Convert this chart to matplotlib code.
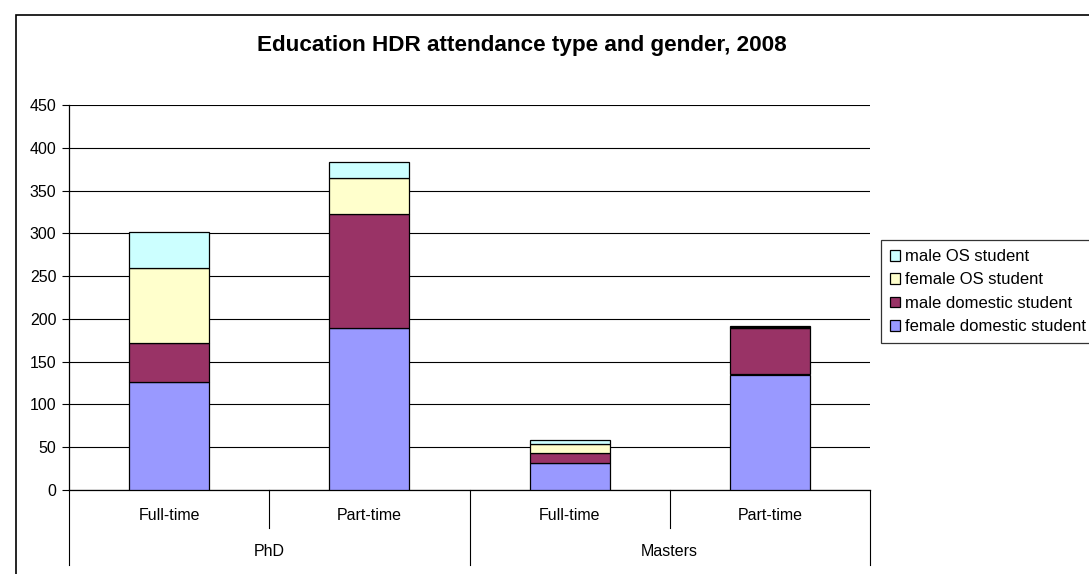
import matplotlib
matplotlib.use("Agg")
import matplotlib.pyplot as plt
from matplotlib.patches import Rectangle
from matplotlib.lines import Line2D
import numpy as np

plt.rcParams['font.family'] = ['Liberation Sans', 'DejaVu Sans']

title = "Education HDR attendance type and gender, 2008"
subcats = ["Full-time", "Part-time", "Full-time", "Part-time"]
groups = ["PhD", "Masters"]
series_names = ["female domestic student", "male domestic student", "female OS student", "male OS student"]
female_domestic = [126, 189, 31, 135]
male_domestic = [46, 134, 12, 54]
female_os = [88, 42, 11, 2]
male_os = [41, 18, 4, 1]
yticks = [0, 50, 100, 150, 200, 250, 300, 350, 400, 450]
colors = ["#9999FF", "#993366", "#FFFFCC", "#CCFFFF"]

W, H = 1089, 574
fig = plt.figure(figsize=(W / 100, H / 100), dpi=100)

# outer chart border
fig.patches.append(Rectangle((16 / W, -0.5), 2.0, 1.5 - 15 / H, transform=fig.transFigure,
                             fill=False, edgecolor="black", linewidth=1.2))

ax_l, ax_r, ax_t, ax_b = 69, 870, 105, 490
ax = fig.add_axes([ax_l / W, 1 - ax_b / H, (ax_r - ax_l) / W, (ax_b - ax_t) / H])

x = np.arange(len(subcats))
data = [female_domestic, male_domestic, female_os, male_os]
bottom = np.zeros(len(subcats))
handles = []
for vals, name, c in zip(data, series_names, colors):
    b = ax.bar(x, vals, 0.4, bottom=bottom, color=c, edgecolor="black", linewidth=0.9,
               label=name, zorder=3)
    handles.append(b)
    bottom += np.array(vals)

ax.set_xlim(-0.5, 3.5)
ax.set_ylim(0, 450)
ax.set_yticks(yticks)
ax.set_yticklabels([str(v) for v in yticks], fontsize=11.5)
ax.yaxis.grid(True, color="black", linewidth=0.8, zorder=0)
ax.set_axisbelow(True)
ax.tick_params(axis="y", direction="out", length=5, width=0.8, pad=4)
ax.set_xticks([])
for s in ["top", "right"]:
    ax.spines[s].set_visible(False)
ax.spines["left"].set_linewidth(0.9)
ax.spines["bottom"].set_linewidth(0.9)

axh = ax_b - ax_t
def yfrac(py):
    return (ax_b - py) / axh

for i, lab in enumerate(subcats):
    ax.text(i, yfrac(515), lab, ha="center", va="center", fontsize=11.5,
            transform=ax.get_xaxis_transform(), clip_on=False)
for g, lab in enumerate(groups):
    ax.text(g * 2 + 0.5, yfrac(551), lab, ha="center", va="center", fontsize=11.5,
            transform=ax.get_xaxis_transform(), clip_on=False)
for xs in [0.5, 2.5]:
    ax.add_line(Line2D([xs, xs], [0, yfrac(528)], color="black", linewidth=0.8,
                       transform=ax.get_xaxis_transform(), clip_on=False))
for xs in [-0.5, 1.5, 3.5]:
    ax.add_line(Line2D([xs, xs], [0, yfrac(565)], color="black", linewidth=0.8,
                       transform=ax.get_xaxis_transform(), clip_on=False))

fig.text(522 / W, 1 - 46 / H, title, ha="center", va="center", fontsize=16.2, fontweight="bold")

leg = fig.legend(handles[::-1], series_names[::-1], loc="upper left",
                 bbox_to_anchor=(881 / W, 1 - 240 / H), fontsize=12,
                 frameon=True, fancybox=False, edgecolor="black",
                 handlelength=0.6, handleheight=0.6, handletextpad=0.3,
                 labelspacing=0.5, borderpad=0.55, borderaxespad=0)
leg.get_frame().set_linewidth(0.9)

fig.savefig("out.png", dpi=100)
